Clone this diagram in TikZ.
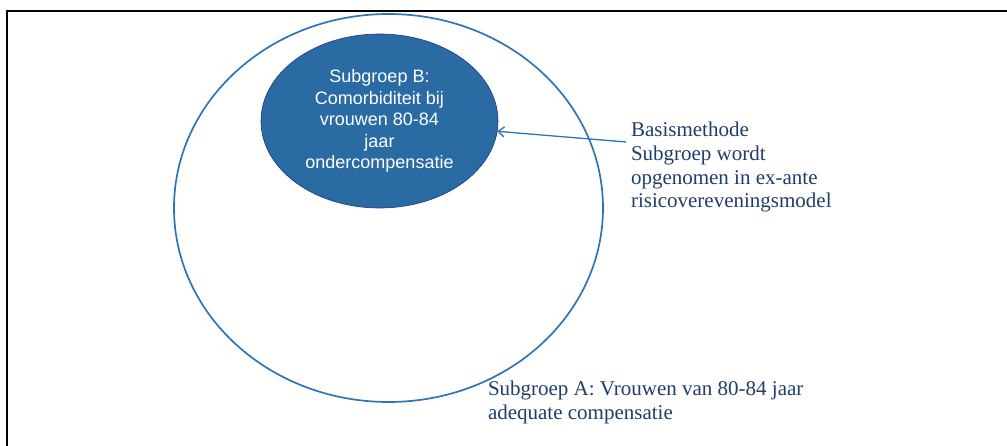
\documentclass[tikz,border=0pt]{standalone}
\usepackage{fontspec}
\setmainfont{Liberation Serif}
\newfontfamily\arialfont{Liberation Sans}
\usepackage{tikz}
\usetikzlibrary{arrows.meta,shapes.geometric,positioning}
\definecolor{outerblue}{HTML}{2E75B6}
\definecolor{innerblue}{HTML}{2A6BA4}
\definecolor{innerrim}{HTML}{1F3580}
\definecolor{labelblue}{HTML}{1F3D6B}

\begin{document}
\begin{tikzpicture}[x=1pt,y=-1pt,>={Straight Barb[length=6pt,width=10pt]},semithick]
\tikzstyle{every node}=[inner sep=0pt,outer sep=0pt]
\tikzstyle{group}=[ellipse,draw=outerblue,line width=1.7pt]
\tikzstyle{subgroup}=[ellipse,fill=innerblue,draw=innerrim,line width=0.6pt,
  text=white,align=center,font=\arialfont\fontsize{18}{21.5}\selectfont]
\tikzstyle{remark}=[text=labelblue,align=left,font=\fontsize{21}{23.7}\selectfont]
\useasboundingbox (0,0) rectangle (1007,446);

% frame
\draw[line width=2pt] (7,446) -- (7,11) -- (1007,11);

\node [group,minimum width=429pt,minimum height=388pt] (A) at (388.5,208) {};
\node [subgroup,minimum width=237pt,minimum height=174pt] (B) at (379.5,121)
  {Subgroep B:\\ Comorbiditeit bij\\ vrouwen 80-84\\ jaar\\ ondercompensatie};

% base = last line
\node [remark,anchor=base west] (basis) at (631,208)
  {Basismethode\\ Subgroep wordt\\ opgenomen in ex-ante\\ risicovereveningsmodel};
\node [remark,anchor=base west] (subA) at (488,419)
  {Subgroep A: Vrouwen van 80-84 jaar\\ adequate compensatie};

\coordinate (tail) at (626,142);
\draw[->,draw=outerblue,line width=1.3pt] (tail) -- (B.-5);

\end{tikzpicture}
\end{document}
